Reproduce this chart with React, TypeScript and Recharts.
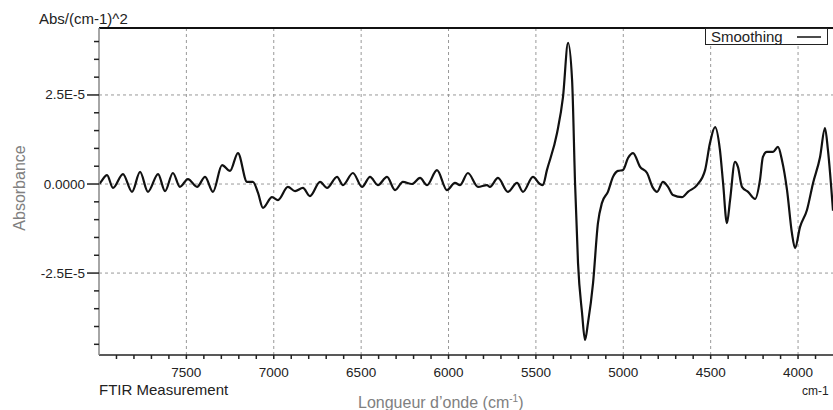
import React from 'react';
import { LineChart, Line, XAxis, YAxis, ReferenceLine, Legend } from 'recharts';

// Wavenumber (cm-1) of each traced point
const WAVENUMBERS = [
  8000, 7994, 7954, 7920, 7863, 7811, 7765, 7720, 7662, 7622,
  7577, 7537, 7491, 7439, 7393, 7348, 7296, 7250, 7205, 7153,
  7119, 7090, 7062, 7010, 6976, 6919, 6878, 6833, 6793, 6735,
  6695, 6638, 6604, 6547, 6495, 6449, 6404, 6352, 6306, 6261,
  6209, 6163, 6123, 6066, 6009, 5963, 5934, 5889, 5831, 5780,
  5763, 5717, 5660, 5608, 5574, 5517, 5477, 5460, 5437, 5379,
  5345, 5316, 5293, 5276, 5259, 5236, 5219, 5202, 5173, 5145,
  5122, 5088, 5059, 5030, 5002, 4973, 4944, 4904, 4864, 4830,
  4807, 4773, 4744, 4716, 4664, 4630, 4578, 4532, 4504, 4475,
  4447, 4429, 4407, 4389, 4361, 4344, 4321, 4286, 4246, 4218,
  4201, 4178, 4143, 4115, 4092, 4063, 4035, 4017, 3989, 3949,
  3914, 3874, 3846, 3829, 3800,
];

// Smoothed absorbance, in units of 1E-5
const SMOOTHING = [
  0, 0.03, 0.25, -0.11, 0.28, -0.22, 0.34, -0.22, 0.28, -0.2,
  0.31, -0.08, 0.14, -0.08, 0.2, -0.22, 0.53, 0.37, 0.87, 0.06,
  0.06, -0.25, -0.67, -0.37, -0.45, -0.08, -0.2, -0.11, -0.34, 0.06,
  -0.11, 0.2, -0.03, 0.31, -0.08, 0.2, -0.03, 0.2, -0.17, 0.06,
  0, 0.17, -0.03, 0.39, -0.17, 0.03, -0.03, 0.31, -0.08, -0.03,
  -0.08, 0.17, -0.22, 0.03, -0.22, 0.2, 0, -0.03, 0.39, 1.43,
  2.44, 3.96, 2.92, 0.03, -2.22, -3.62, -4.38, -3.9, -2.78, -1.1,
  -0.53, -0.22, 0.2, 0.37, 0.39, 0.73, 0.87, 0.48, 0.31, -0.11,
  -0.22, 0.06, -0.08, -0.31, -0.37, -0.22, -0.03, 0.39, 1.15, 1.6,
  0.96, 0.03, -1.1, -0.45, 0.62, 0.48, -0.08, -0.22, -0.42, 0.11,
  0.76, 0.9, 0.9, 1.04, 0.67, -0.17, -1.38, -1.8, -1.21, -0.73,
  0.03, 0.76, 1.57, 0.96, -0.75,
];

const X_DOMAIN = [3800, 8000];
const X_MAJOR = [7500, 7000, 6500, 6000, 5500, 5000, 4500, 4000];
const X_MAJOR_LABELS = ['7500', '7000', '6500', '6000', '5500', '5000', '4500', '4000'];
const X_MINOR = [
  7900, 7800, 7700, 7600, 7500, 7400, 7300, 7200, 7100, 7000,
  6900, 6800, 6700, 6600, 6500, 6400, 6300, 6200, 6100, 6000,
  5900, 5800, 5700, 5600, 5500, 5400, 5300, 5200, 5100, 5000,
  4900, 4800, 4700, 4600, 4500, 4400, 4300, 4200, 4100, 4000, 3900,
];

const Y_DOMAIN = [-4.8, 4.38];
const Y_MAJOR = [2.5, 0, -2.5];
const Y_MAJOR_LABELS = ['2.5E-5', '0.0000', '-2.5E-5'];
const Y_MINOR = [4, 3.5, 3, 2.5, 2, 1.5, 1, 0.5, 0, -0.5, -1, -1.5, -2, -2.5, -3, -3.5, -4, -4.5];

const SERIES_NAME = 'Smoothing';
const Y_UNIT_TITLE = 'Abs/(cm-1)^2';
const Y_TITLE = 'Absorbance';
const X_UNIT = 'cm-1';
const FOOTER = 'FTIR Measurement';
const X_TITLE = 'Longueur d\u2019onde (cm';

const data = WAVENUMBERS.map((wn, i) => ({ wn, v: SMOOTHING[i] }));

const FONT = '"Liberation Sans", Arial, sans-serif';

function XTick(props: any) {
  const { x, y, payload } = props;
  const idx = X_MAJOR.indexOf(payload.value);
  return (
    <g>
      <line x1={x} x2={x} y1={y} y2={y + 4} stroke="#222" strokeWidth={1.5} />
      {idx >= 0 && (
        <text x={x} y={y + 22} textAnchor="middle" fontSize={13.5} fill="#222" fontFamily={FONT}>
          {X_MAJOR_LABELS[idx]}
        </text>
      )}
    </g>
  );
}

function YTick(props: any) {
  const { x, y, payload } = props;
  const idx = Y_MAJOR.indexOf(payload.value);
  const len = idx >= 0 ? 12 : 5;
  return (
    <g>
      <line x1={x - len} x2={x} y1={y} y2={y} stroke="#222" strokeWidth={1.5} />
      {idx >= 0 && (
        <text x={x - 14} y={y + 4.5} textAnchor="end" fontSize={13.5} fill="#222" fontFamily={FONT}>
          {Y_MAJOR_LABELS[idx]}
        </text>
      )}
    </g>
  );
}

function LegendBox() {
  return (
    <div
      style={{
        boxSizing: 'border-box',
        width: 123,
        height: 17,
        border: '1.5px solid #222',
        background: '#fff',
        display: 'flex',
        alignItems: 'center',
        fontFamily: FONT,
        fontSize: 15,
        color: '#222',
        paddingLeft: 5,
        lineHeight: 1,
      }}
    >
      <span style={{ flex: 1 }}>{SERIES_NAME}</span>
      <svg width={30} height={10} style={{ marginRight: 2 }}>
        <line x1={2} x2={26} y1={5} y2={5} stroke="#111" strokeWidth={1.5} />
      </svg>
    </div>
  );
}

export default function App() {
  return (
    <div style={{ position: 'absolute', left: 0, top: 0, width: 833, height: 410, background: '#fff' }}>
      <LineChart width={833} height={410} data={data} margin={{ top: 28, right: 0, bottom: 0, left: 0 }}>
        {X_MAJOR.map((v) => (
          <ReferenceLine key={'gx' + v} x={v} stroke="#999" strokeDasharray="3 3" />
        ))}
        {Y_MAJOR.map((v) => (
          <ReferenceLine key={'gy' + v} y={v} stroke="#999" strokeDasharray="3 3" />
        ))}
        <ReferenceLine y={Y_DOMAIN[1]} stroke="#111" strokeWidth={2} ifOverflow="extendDomain" />
        <XAxis
          dataKey="wn"
          type="number"
          domain={X_DOMAIN}
          reversed
          allowDataOverflow
          ticks={X_MINOR}
          interval={0}
          tickLine={false}
          tickSize={0}
          tickMargin={0}
          tick={(p: any) => <XTick {...p} />}
          axisLine={{ stroke: '#222', strokeWidth: 1.5 }}
          height={55}
        />
        <YAxis
          type="number"
          domain={Y_DOMAIN}
          allowDataOverflow
          ticks={Y_MINOR}
          interval={0}
          tickLine={false}
          tickSize={0}
          tickMargin={0}
          tick={(p: any) => <YTick {...p} />}
          axisLine={{ stroke: '#888', strokeWidth: 1.5 }}
          width={99}
        />
        <Legend
          layout="horizontal"
          verticalAlign="middle"
          align="center"
          content={() => <LegendBox />}
          wrapperStyle={{ position: 'absolute', left: 705, top: 28, width: 123, height: 17 }}
        />
        <Line
          type="monotone"
          dataKey="v"
          name={SERIES_NAME}
          stroke="#111"
          strokeWidth={2.2}
          dot={false}
          isAnimationActive={false}
        />
      </LineChart>
      <svg
        width={833}
        height={410}
        style={{ position: 'absolute', left: 0, top: 0, pointerEvents: 'none' }}
        fontFamily={FONT}
      >
        <text x={39} y={24} fontSize={15} fill="#222">{Y_UNIT_TITLE}</text>
        <text x={25} y={188} fontSize={16} fill="#808080" textAnchor="middle" transform="rotate(-90 25 188)">
          {Y_TITLE}
        </text>
        <text x={99} y={395} fontSize={15} fill="#222">{FOOTER}</text>
        <text x={802} y={395} fontSize={12} fill="#222">{X_UNIT}</text>
        <text x={358} y={408} fontSize={16} fill="#808080">
          {X_TITLE}
          <tspan fontSize={10} dy={-6}>-1</tspan>
          <tspan dy={6}>)</tspan>
        </text>
      </svg>
    </div>
  );
}
